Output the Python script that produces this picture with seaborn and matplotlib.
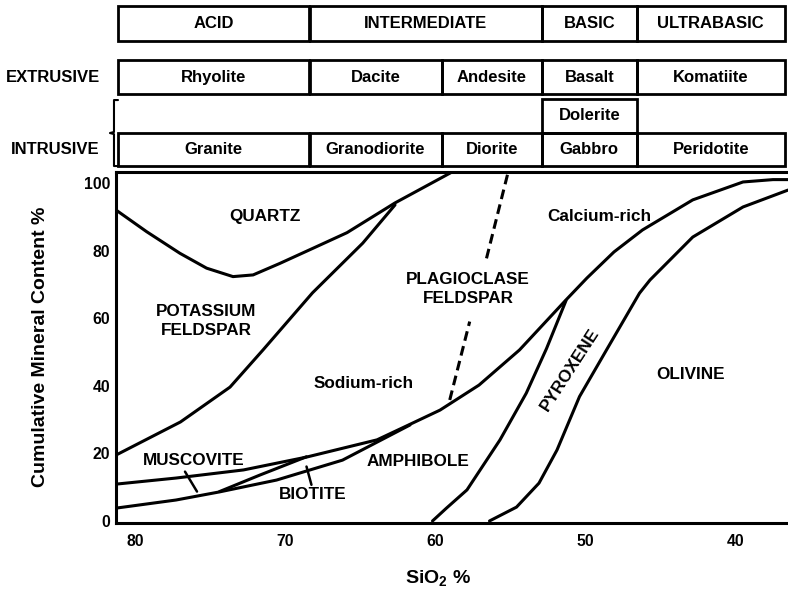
import numpy as np
import matplotlib
matplotlib.use('Agg')
import matplotlib.pyplot as plt
from matplotlib.patches import Rectangle
import seaborn as sns

# SiO2 (%) / cumulative mineral content (%)
quartz_x = [81.3, 79.26, 77.04, 75.26, 73.5, 72.16, 70.38, 68.16, 65.9, 62.7, 59.0]
quartz_y = [92.0, 85.6, 79.2, 74.8, 72.3, 72.8, 76.2, 80.7, 85.3, 94.1, 103.0]

kspar_x = [81.3, 77.0, 73.7, 71.5, 68.2, 64.85, 62.7]
kspar_y = [19.5, 29.3, 39.6, 50.6, 67.5, 82.2, 93.5]

plag_low_x = [81.3, 77.3, 72.8, 68.6, 63.9, 61.7, 59.7, 57.1, 54.4, 51.3, 49.9, 48.1, 46.2, 42.85, 39.5, 37.5, 36.5]
plag_low_y = [10.9, 12.7, 15.1, 18.9, 24.0, 28.6, 32.8, 40.2, 50.6, 65.4, 71.9, 79.6, 86.1, 95.0, 100.3, 101.0, 101.0]

biotite_low_x = [81.3, 77.3, 74.4, 70.6, 66.2, 61.7]
biotite_low_y = [3.8, 6.2, 8.6, 12.1, 18.0, 28.4]

musc_low_x = [74.4, 71.7, 68.6]
musc_low_y = [8.7, 13.6, 19.0]

amph_x = [60.2, 59.27, 57.9, 55.7, 53.95, 52.6, 51.3]
amph_y = [0.0, 3.8, 9.2, 24.0, 37.8, 51.0, 65.2]

olivine_x = [56.4, 54.6, 53.1, 51.9, 50.4, 48.6, 46.4, 45.7, 42.85, 39.5, 36.5]
olivine_y = [0.0, 4.1, 11.2, 21.0, 36.8, 50.6, 67.4, 71.3, 84.0, 92.9, 97.9]

# Na / Ca plagioclase divide (dashed, broken around the label)
na_ca_low_x = [59.05, 57.72]
na_ca_low_y = [35.8, 59.0]
na_ca_high_x = [56.6, 55.17]
na_ca_high_y = [77.7, 103.0]

# pointer ticks for the thin mica bands
musc_tick_x = [76.7, 75.9]
musc_tick_y = [14.6, 8.7]
bio_tick_x = [68.6, 68.27]
bio_tick_y = [16.1, 10.7]

# region labels: (text, x, y)
region_labels = [
    ('QUARTZ', 71.4, 90.0),
    ('POTASSIUM\nFELDSPAR', 75.3, 59.2),
    ('PLAGIOCLASE\nFELDSPAR', 57.84, 68.6),
    ('Calcium-rich', 49.1, 90.0),
    ('Sodium-rich', 64.8, 40.7),
    ('MUSCOVITE', 76.15, 17.75),
    ('BIOTITE', 68.2, 7.9),
    ('AMPHIBOLE', 61.17, 17.5),
    ('OLIVINE', 43.0, 43.2),
]
pyroxene_label = ('PYROXENE', 51.02, 44.9)

# rock classification table above the plot (SiO2 edges of the boxes)
class_edges = [81.2, 68.4, 52.9, 46.6, 36.7]
class_names = ['ACID', 'INTERMEDIATE', 'BASIC', 'ULTRABASIC']
rock_edges = [81.2, 68.4, 59.6, 52.9, 46.6, 36.7]
extrusive_names = ['Rhyolite', 'Dacite', 'Andesite', 'Basalt', 'Komatiite']
intrusive_names = ['Granite', 'Granodiorite', 'Diorite', 'Gabbro', 'Peridotite']
dolerite_edges = [52.9, 46.6]

x_ticks = [80, 70, 60, 50, 40]
y_ticks = [0, 20, 40, 60, 80, 100]

sns.set_style('white')
FONT = 'Liberation Sans'
plt.rcParams['font.family'] = [FONT, 'DejaVu Sans']
plt.rcParams['font.weight'] = 'bold'
plt.rcParams['mathtext.fontset'] = 'custom'
plt.rcParams['mathtext.rm'] = FONT + ':bold'
plt.rcParams['mathtext.bf'] = FONT + ':bold'
plt.rcParams['mathtext.default'] = 'bf'
# plain black text, like the original drawing
for key in ['text.color', 'axes.labelcolor', 'xtick.color', 'ytick.color']:
    plt.rcParams[key] = 'black'

W, H = 788, 598
fig = plt.figure(figsize=(W / 100, H / 100), dpi=100)
ax = fig.add_axes([116 / W, 75 / H, 672 / W, 351 / H])

LW = 2.2
def curve(xs, ys, **kw):
    sns.lineplot(x=xs, y=ys, sort=False, estimator=None, color='black',
                 linewidth=kw.pop('lw', LW), ax=ax, solid_joinstyle='round',
                 solid_capstyle='round', **kw)

curve(quartz_x, quartz_y)
curve(kspar_x, kspar_y)
curve(plag_low_x, plag_low_y)
curve(biotite_low_x, biotite_low_y)
curve(musc_low_x, musc_low_y)
curve(amph_x, amph_y)
curve(olivine_x, olivine_y)
curve(na_ca_low_x, na_ca_low_y, linestyle=(0, (3.2, 1.8)))
curve(na_ca_high_x, na_ca_high_y, linestyle=(0, (3.2, 1.8)))
curve(musc_tick_x, musc_tick_y, lw=1.8)
curve(bio_tick_x, bio_tick_y, lw=1.8)

LBL = 12.3
for txt, x, y in region_labels:
    ax.text(x, y, txt, ha='center', va='center', fontsize=LBL,
            fontweight='bold', linespacing=1.35, color='black')
ax.text(pyroxene_label[1], pyroxene_label[2], pyroxene_label[0], ha='center',
        va='center', fontsize=LBL, fontweight='bold', rotation=57, color='black')

ax.set_xlim(81.3, 36.5)
ax.set_ylim(-0.6, 103.25)
ax.set_xticks(x_ticks)
ax.set_yticks(y_ticks)
ax.tick_params(length=0, labelsize=11.3, labelcolor='black')
ax.tick_params(axis='x', pad=8)
ax.tick_params(axis='y', pad=4)
for lab in ax.get_xticklabels() + ax.get_yticklabels():
    lab.set_fontweight('bold')
for side in ['left', 'bottom', 'top']:
    ax.spines[side].set_linewidth(2.2)
    ax.spines[side].set_color('black')
ax.spines['right'].set_visible(False)

# table rows (x in SiO2, y in axes fraction)
tr = ax.get_xaxis_transform()
def box_row(edges, names, y0, h):
    for i in range(len(edges) - 1):
        ax.add_patch(Rectangle((edges[i], y0), edges[i + 1] - edges[i], h,
                               fill=False, lw=2, ec='black', transform=tr,
                               clip_on=False))
        if names is not None:
            ax.text((edges[i] + edges[i + 1]) / 2, y0 + h / 2, names[i],
                    transform=tr, ha='center', va='center', fontsize=12,
                    fontweight='bold', clip_on=False, color='black')

box_row(class_edges, class_names, 1.3732, 0.0997)
box_row(rock_edges, extrusive_names, 1.2222, 0.0969)
box_row(dolerite_edges, ['Dolerite'], 1.1111, 0.0969)
box_row(rock_edges, intrusive_names, 1.0171, 0.094)

ax.text(-0.024, 1.2222 + 0.0969 / 2, 'EXTRUSIVE', transform=ax.transAxes,
        ha='right', va='center', fontsize=12, fontweight='bold', color='black')
ax.text(-0.024, 1.0171 + 0.094 / 2, 'INTRUSIVE', transform=ax.transAxes,
        ha='right', va='center', fontsize=12, fontweight='bold', color='black')

# curly bracket joining Dolerite row to the intrusive row
bx = [0.003, -0.003, -0.003, -0.009, -0.003, -0.003, 0.003]
by = [1.205, 1.205, 1.114, 1.111, 1.108, 1.017, 1.017]
ax.plot(bx, by, color='black', lw=1.5, transform=ax.transAxes, clip_on=False)

fig.text(41 / W, 1 - 347 / H, 'Cumulative Mineral Content %', rotation=90,
         ha='center', va='center', fontsize=14, fontweight='bold', color='black')
fig.text(438 / W, 1 - 578 / H, 'SiO$_2$ %', ha='center', va='center',
         fontsize=14, fontweight='bold', color='black')

fig.savefig('out.png', dpi=100)
